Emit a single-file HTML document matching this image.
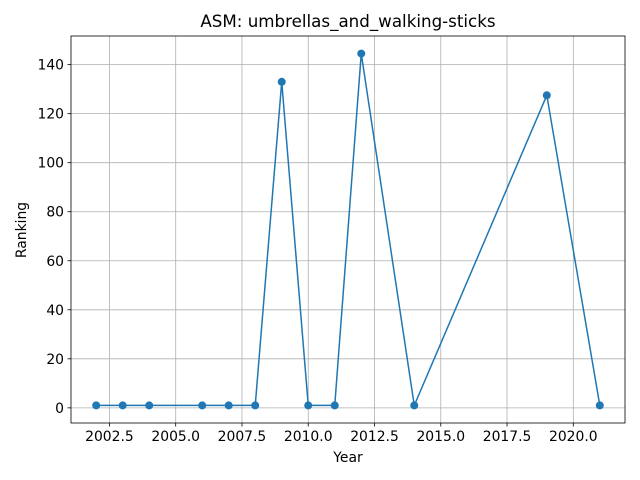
<!DOCTYPE html>
<html><head><meta charset="utf-8"><style>body{margin:0;background:#fff}svg{display:block;font-family:"DejaVu Sans","Liberation Sans",sans-serif}</style></head>
<body>
<svg id="chart" width="640" height="480" viewBox="0 0 640 480" xmlns="http://www.w3.org/2000/svg">
<rect width="640" height="480" fill="#fff"/>
<text x="348" y="27" font-size="16.7" text-anchor="middle">ASM: umbrellas_and_walking-sticks</text>
<g id="grid"></g><g id="series"></g>
<rect x="71" y="36" width="554" height="387" fill="none" stroke="#000" stroke-width="0.8"/>
<g id="ticks"></g>
<text x="348" y="462" font-size="13.9" text-anchor="middle">Year</text>
<text x="26" y="230" font-size="13.9" text-anchor="middle" transform="rotate(-90 26 230)">Ranking</text>
</svg>
<script>
const years=[2002,2003,2004,2006,2007,2008,2009,2010,2011,2012,2014,2019,2021];
const rankings=[1,1,1,1,1,1,133,1,1,144.5,1,127.5,1];
const xTicks=[2002.5,2005,2007.5,2010,2012.5,2015,2017.5,2020];
const yTicks=[0,20,40,60,80,100,120,140];
const L=71,R=625,T=36,B=423;
const xmin=Math.min(...years),xmax=Math.max(...years),xm=(xmax-xmin)*0.05;
const ymin=Math.min(...rankings),ymax=Math.max(...rankings),ym=(ymax-ymin)*0.05;
const X=v=>L+(v-(xmin-xm))/((xmax+xm)-(xmin-xm))*(R-L);
const Y=v=>B-(v-(ymin-ym))/((ymax+ym)-(ymin-ym))*(B-T);
const NS="http://www.w3.org/2000/svg";
const mk=(p,t,a)=>{const e=document.createElementNS(NS,t);for(const k in a)e.setAttribute(k,a[k]);p.appendChild(e);return e;};
const g=document.getElementById('grid'),tk=document.getElementById('ticks'),s=document.getElementById('series');
xTicks.forEach(v=>{const x=X(v);
const l=mk(g,'line',{x1:x,x2:x,y1:T,y2:B,stroke:'#b0b0b0','stroke-width':0.8});


mk(tk,'line',{x1:x,x2:x,y1:B,y2:B+3.5,stroke:'#000','stroke-width':0.8});
const t=mk(tk,'text',{x:x,y:B+18,'font-size':13.9,'text-anchor':'middle'});t.textContent=v.toFixed(1);

});
yTicks.forEach(v=>{const y=Y(v);
const l=mk(g,'line',{x1:L,x2:R,y1:y,y2:y,stroke:'#b0b0b0','stroke-width':0.8});


mk(tk,'line',{x1:L-3.5,x2:L,y1:y,y2:y,stroke:'#000','stroke-width':0.8});
const t=mk(tk,'text',{x:L-7,y:y+5,'font-size':13.9,'text-anchor':'end'});t.textContent=v;

});
const pl=mk(s,'polyline',{points:years.map((v,i)=>X(v)+','+Y(rankings[i])).join(' '),fill:'none',stroke:'#1f77b4','stroke-width':1.5});


years.forEach((v,i)=>{const c=mk(s,'circle',{cx:X(v),cy:Y(rankings[i]),r:4,fill:'#1f77b4'});

});
</script>
</body></html>
